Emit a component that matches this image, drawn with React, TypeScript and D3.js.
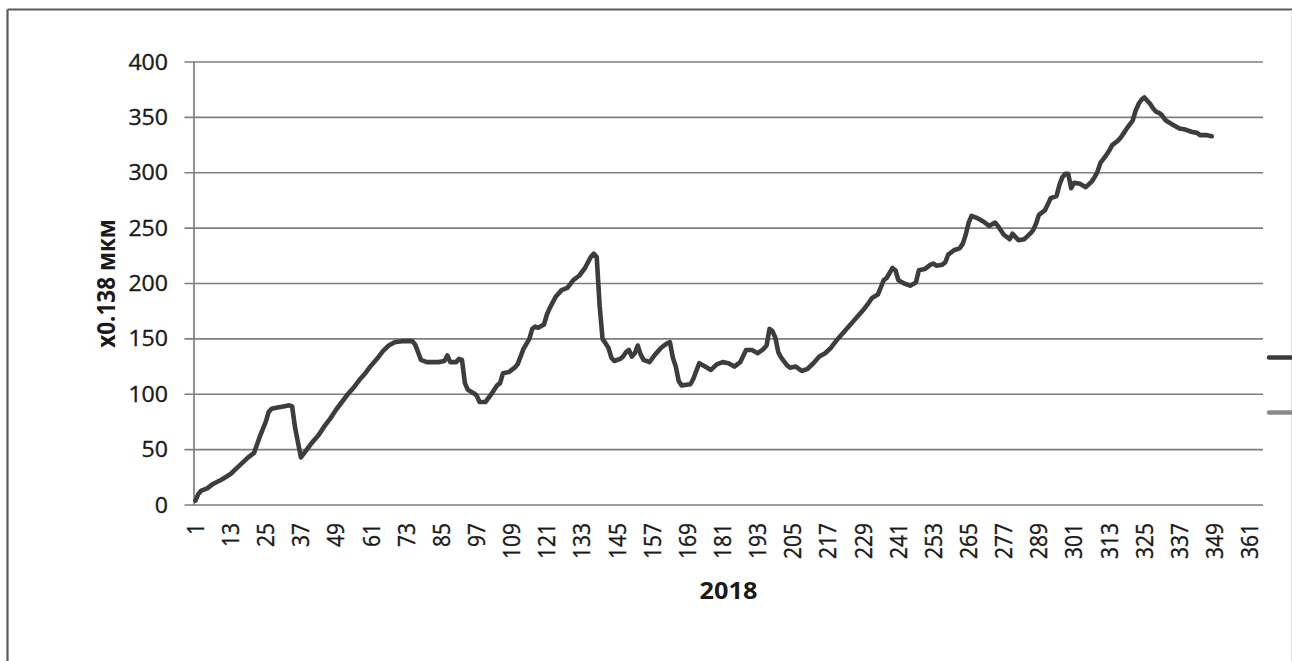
import React from 'react';
import * as d3 from 'd3';

// Readings (day of year, value) taken from the reference line
const days = [
  1, 2, 3, 5, 7, 10, 13, 15, 17, 19, 20, 21, 23, 25, 26, 27, 29, 31, 33, 34, 35, 37, 39, 41, 43, 45, 47, 49,
  51, 53, 55, 57, 59, 61, 63, 65, 67, 69, 72, 75, 76, 78, 80, 84, 86, 87, 88, 90, 91, 92, 93, 94, 96, 97, 98,
  100, 102, 103, 104, 105, 106, 108, 110, 111, 113, 115, 116, 117, 118, 120, 121, 122, 124, 126, 128, 130,
  132, 134, 136, 137, 138, 139, 140, 141, 142, 143, 144, 146, 147, 148, 149, 150, 151, 152, 153, 154, 156,
  158, 160, 162, 163, 164, 165, 166, 167, 170, 171, 172, 173, 175, 177, 179, 181, 183, 185, 187, 189, 191,
  193, 195, 196, 197, 198, 199, 200, 201, 203, 204, 206, 208, 210, 212, 214, 216, 218, 220, 223, 226, 229,
  231, 232, 234, 236, 237, 239, 240, 241, 243, 245, 247, 248, 250, 252, 253, 254, 256, 257, 258, 260, 262,
  263, 264, 265, 266, 268, 270, 272, 274, 275, 277, 279, 280, 282, 284, 286, 287, 288, 289, 291, 293, 295,
  296, 297, 298, 299, 300, 301, 303, 305, 307, 308, 309, 310, 312, 313, 314, 316, 317, 318, 319, 321, 322,
  323, 324, 325, 326, 327, 328, 329, 330, 331, 332, 333, 335, 337, 339, 341, 343, 344, 346, 348,
];
const values = [
  4, 10, 13, 15, 19, 23, 28, 33, 38, 43, 45, 47, 62, 75, 84, 87, 88, 89, 90, 89, 70, 43, 50, 57, 63, 71, 78, 86,
  93, 100, 106, 113, 119, 126, 132, 139, 144, 147, 148, 148, 145, 131, 129, 129, 130, 135, 129, 129, 132, 131,
  110, 104, 101, 99, 93, 93, 100, 104, 108, 110, 119, 120, 124, 127, 141, 150, 159, 161, 160, 163, 172, 178,
  188, 194, 196, 203, 207, 214, 224, 227, 224, 180, 150, 146, 142, 133, 130, 132, 134, 138, 140, 134, 137, 144,
  136, 131, 129, 136, 142, 146, 147, 133, 125, 112, 108, 109, 114, 121, 128, 125, 122, 127, 129, 128, 125, 129,
  140, 140, 137, 141, 144, 159, 157, 151, 138, 133, 126, 124, 125, 121, 123, 128, 134, 137, 142, 149, 158, 167,
  176, 183, 187, 190, 203, 205, 214, 212, 203, 200, 198, 201, 212, 213, 217, 218, 216, 217, 219, 226, 230, 232,
  236, 244, 255, 261, 259, 256, 252, 255, 252, 244, 240, 245, 239, 240, 245, 248, 254, 262, 266, 277, 279, 289,
  296, 299, 299, 286, 291, 290, 287, 292, 296, 301, 309, 316, 320, 325, 329, 332, 336, 340, 347, 356, 362, 366,
  368, 365, 362, 358, 355, 354, 352, 348, 346, 343, 340, 339, 337, 336, 334, 334, 333,
];
const categoryCount = 365;
const xTickLabels = [
  1, 13, 25, 37, 49, 61, 73, 85, 97, 109, 121, 133, 145, 157, 169, 181, 193, 205, 217, 229, 241, 253, 265, 277,
  289, 301, 313, 325, 337, 349, 361,
];
const yTicks = [0, 50, 100, 150, 200, 250, 300, 350, 400];
const yTitle = 'x0.138 мкм';
const xTitle = '2018';

const W = 1292;
const H = 661;
const left = 194;
const right = 1263;
const top = 62;
const bottom = 505;
const FONT = '"Open Sans", sans-serif';
const SX = 1.1;
const TXT = '#1a1a1a';

export default function App() {
  const x = d3.scaleLinear().domain([0.5, categoryCount + 0.5]).range([left, right]);
  const y = d3.scaleLinear().domain([0, 400]).range([bottom, top]);
  const pts = days.map((d, i) => [d, values[i]] as [number, number]);
  const line = d3
    .line<[number, number]>()
    .x((p) => x(p[0]))
    .y((p) => y(p[1]))(pts);

  return (
    <svg
      width={W}
      height={H}
      style={{ position: 'absolute', left: 0, top: 0, background: '#fff' }}
      fontFamily={FONT}
    >
      <rect x={0} y={0} width={W} height={H} fill="#fff" />
      {/* outer frame */}
      <line x1={7.5} y1={9.5} x2={W} y2={9.5} stroke="#5a5a5a" strokeWidth={2.2} />
      <line x1={7.5} y1={9.5} x2={7.5} y2={H} stroke="#5a5a5a" strokeWidth={2.2} />
      <line x1={1291.5} y1={10} x2={1291.5} y2={H} stroke="#e0e0e0" strokeWidth={1} />

      {/* gridlines + y ticks */}
      {yTicks.map((t) => (
        <g key={t}>
          <line x1={left - 9.5} x2={right} y1={y(t)} y2={y(t)} stroke="#7f7f7f" strokeWidth={1.7} />
          <g transform={`translate(168,${y(t)}) scale(${SX},1)`}>
            <text textAnchor="end" dy="0.36em" fontSize={21} fill={TXT} stroke={TXT} strokeWidth={0.35}>
              {t}
            </text>
          </g>
        </g>
      ))}
      <line x1={left} x2={left} y1={top} y2={bottom} stroke="#7f7f7f" strokeWidth={1.7} />

      {/* x tick labels */}
      {xTickLabels.map((t) => (
        <g key={t} transform={`translate(${x(t)},523) scale(${SX},1)`}>
          <text
            transform="rotate(-90)"
            textAnchor="end"
            dy="0.36em"
            fontSize={21}
            fill={TXT}
            stroke={TXT}
            strokeWidth={0.35}
          >
            {t}
          </text>
        </g>
      ))}

      {/* series */}
      <path
        d={line ?? ''}
        fill="none"
        stroke="#3d3d3d"
        strokeWidth={4.6}
        strokeLinejoin="round"
        strokeLinecap="round"
      />

      {/* titles */}
      <g transform={`translate(106,${(top + bottom) / 2}) scale(${SX},1)`}>
        <text transform="rotate(-90)" textAnchor="middle" dy="0.36em" fontSize={22.5} fontWeight="bold" fill={TXT}>
          {yTitle}
        </text>
      </g>
      <g transform={`translate(${(left + right) / 2},599) scale(${SX},1)`}>
        <text textAnchor="middle" fontSize={23} fontWeight="bold" fill={TXT}>
          {xTitle}
        </text>
      </g>

      {/* legend keys (cut off at the right edge) */}
      <line x1={1269} x2={1300} y1={357.5} y2={357.5} stroke="#3a3a3a" strokeWidth={4.5} strokeLinecap="round" />
      <line x1={1269} x2={1300} y1={412.5} y2={412.5} stroke="#8a8a8a" strokeWidth={4.5} strokeLinecap="round" />
    </svg>
  );
}
